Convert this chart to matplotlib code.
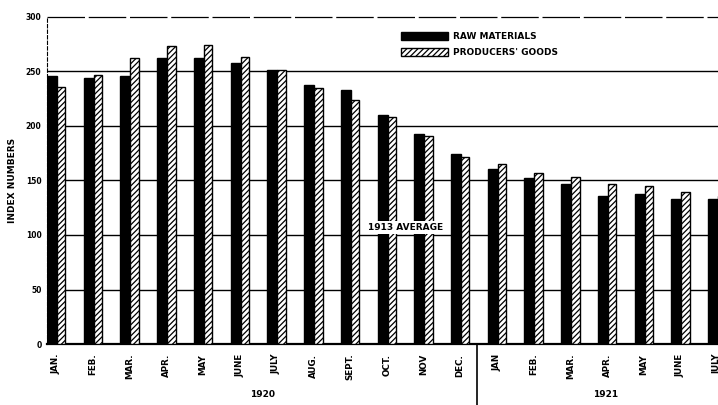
import matplotlib
matplotlib.use("Agg")
import matplotlib.pyplot as plt
import numpy as np

plt.rcParams['font.family'] = ['DejaVu Sans']
plt.rcParams['font.weight'] = 'bold'
plt.rcParams['axes.labelweight'] = 'bold'
plt.rcParams['hatch.linewidth'] = 0.9

months = ['JAN.', 'FEB.', 'MAR.', 'APR.', 'MAY', 'JUNE', 'JULY', 'AUG.', 'SEPT.',
          'OCT.', 'NOV', 'DEC.', 'JAN', 'FEB.', 'MAR.', 'APR.', 'MAY', 'JUNE', 'JULY']
raw_materials = [246, 244, 246, 262, 262, 258, 251, 238, 233,
                 210, 193, 174, 161, 152, 147, 136, 138, 133, 133]
producers_goods = [236, 247, 262, 273, 274, 263, 251, 235, 224,
                   208, 191, 172, 165, 157, 153, 147, 145, 139, 136]
years = ['1920', '1921']

fig = plt.figure(figsize=(7.18, 4.05), dpi=100)
ax = fig.add_axes([47 / 718, 61 / 405, 671 / 718, 327 / 405])

x = np.arange(len(months))
w1, w2 = 0.272, 0.23

# grid first so the bars sit over it
for v in [50, 100, 150, 200, 250]:
    ax.axhline(v, color='black', lw=1.0, zorder=1)
ax.axhline(300, color='black', lw=0.9, ls=(0, (30, 3)), zorder=1, clip_on=False)

ax.bar(x, raw_materials, width=w1, align='edge', color='black', edgecolor='black',
       zorder=3, label='RAW MATERIALS')
ax.bar(x + w1, producers_goods, width=w2, align='edge', color='white', edgecolor='black',
       hatch='//////', lw=1.0, zorder=3, label="PRODUCERS' GOODS")

ax.set_xlim(0, 18.27)
ax.set_ylim(0, 300)
ax.set_yticks([0, 50, 100, 150, 200, 250, 300])
ax.set_yticklabels(['0', '50', '100', '150', '200', '250', '300'], fontsize=5.5, fontweight='bold')
ax.tick_params(axis='y', length=0, pad=4)
ax.set_xticks(x + 0.25)
ax.set_xticklabels(months, rotation=90, va='top', fontsize=6.3, fontweight='bold')
ax.tick_params(axis='x', length=0, pad=7)

for s in ['top', 'right']:
    ax.spines[s].set_visible(False)
ax.spines['left'].set_linewidth(0.8)
ax.spines['left'].set_linestyle((0, (3, 2)))
ax.spines['bottom'].set_linewidth(1.6)

ax.set_ylabel('INDEX NUMBERS', fontsize=6.5, labelpad=6)

ax.text(9.75, 106.5, '1913 AVERAGE', fontsize=6.5, ha='center', va='center',
        bbox=dict(facecolor='white', edgecolor='none', pad=1.5), zorder=4)

# year split
ax.plot([11.72, 11.72], [0, -0.19], transform=ax.get_xaxis_transform(),
        color='black', lw=1.2, clip_on=False)
ax.text(5.88, -0.155, years[0], transform=ax.get_xaxis_transform(),
        ha='center', va='center', fontsize=6.5)
ax.text(15.2, -0.155, years[1], transform=ax.get_xaxis_transform(),
        ha='center', va='center', fontsize=6.5)

fig.legend(loc='upper left', bbox_to_anchor=(396 / 718, 1 - 27 / 405), frameon=False,
           prop={'size': 6.5, 'weight': 'bold'}, handlelength=5.3, handleheight=1.1,
           labelspacing=0.75, handletextpad=0.5, borderpad=0)

fig.savefig('out.png', dpi=100)
